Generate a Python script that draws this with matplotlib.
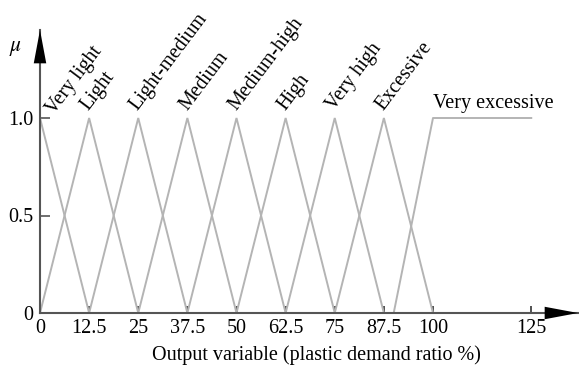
import numpy as np
import matplotlib
matplotlib.use("Agg")
import matplotlib.pyplot as plt

plt.rcParams['font.family'] = ['Liberation Serif', 'DejaVu Serif']
plt.rcParams['mathtext.fontset'] = 'stix'

names = ["Very light", "Light", "Light-medium", "Medium", "Medium-high",
         "High", "Very high", "Excessive"]
peaks = [0, 12.5, 25, 37.5, 50, 62.5, 75, 87.5]
half_width = 12.5
ve_x = [90, 100, 125]   # very excessive: ramp then flat
ve_y = [0, 1, 1]
xticks = [0, 12.5, 25, 37.5, 50, 62.5, 75, 87.5, 100, 125]
xticklabels = ["0", "12.5", "25", "37.5", "50", "62.5", "75", "87.5", "100", "125"]
yticks = [0, 0.5, 1.0]
yticklabels = ["0", "0.5", "1.0"]

W, H = 579, 365
fs = 14.5
fig = plt.figure(figsize=(W / 100, H / 100), dpi=100)
ax = fig.add_axes([40 / W, (H - 313) / H, (578 - 40) / W, (313 - 30) / H])
ax.set_xlim(0, 538 / 3.93)
ax.set_ylim(0, 283 / 195)

lc = "#b4b4b4"
for p in peaks:
    xs = [max(p - half_width, 0), p, p + half_width]
    ys = [0 if p > 0 else 1, 1, 0]
    ax.plot(xs, ys, color=lc, lw=1.4, solid_joinstyle='miter')
ax.plot(ve_x, ve_y, color=lc, lw=1.4)

for n, p in zip(names, peaks):
    dx, y = (3.6, 1.015) if p == 0 else (-0.1, 1.035)
    ax.text(p + dx, y, n, rotation=53, ha='left', va='baseline',
            rotation_mode='anchor', fontsize=fs)
ax.text(100, 1.05, "Very excessive", ha='left', va='baseline', fontsize=fs)

for s in ['top', 'right']:
    ax.spines[s].set_visible(False)
for s in ['left', 'bottom']:
    ax.spines[s].set_color("#555555")
    ax.spines[s].set_linewidth(1.5)

ax.set_xticks(xticks)
ax.set_xticklabels(xticklabels, fontsize=fs)
ax.set_yticks(yticks)
ax.set_yticklabels(yticklabels, fontsize=fs)
ax.tick_params(axis='x', direction='in', length=5, width=1.2, color="#333333", pad=4)
ax.tick_params(axis='y', direction='in', length=7, width=1.2, color="#555555", pad=5)
ax.set_xlabel("Output variable (plastic demand ratio %)", fontsize=fs, labelpad=5.5)
ax.xaxis.label.set_x(0.513)

# arrow heads
ax.annotate("", xy=(1.0, 0), xytext=(0.9, 0), xycoords='axes fraction',
            arrowprops=dict(arrowstyle='-|>,head_length=2.4,head_width=0.45',
                            color='black', lw=0, shrinkA=0, shrinkB=0))
ax.annotate("", xy=(0, 1.0), xytext=(0, 0.8), xycoords='axes fraction',
            arrowprops=dict(arrowstyle='-|>,head_length=2.4,head_width=0.45',
                            color='black', lw=0, shrinkA=0, shrinkB=0))
fig.text(16 / W, 1 - 49 / H, r"$\mu$", fontsize=fs + 1, ha='center', va='center')

fig.savefig("out.png", dpi=100)
